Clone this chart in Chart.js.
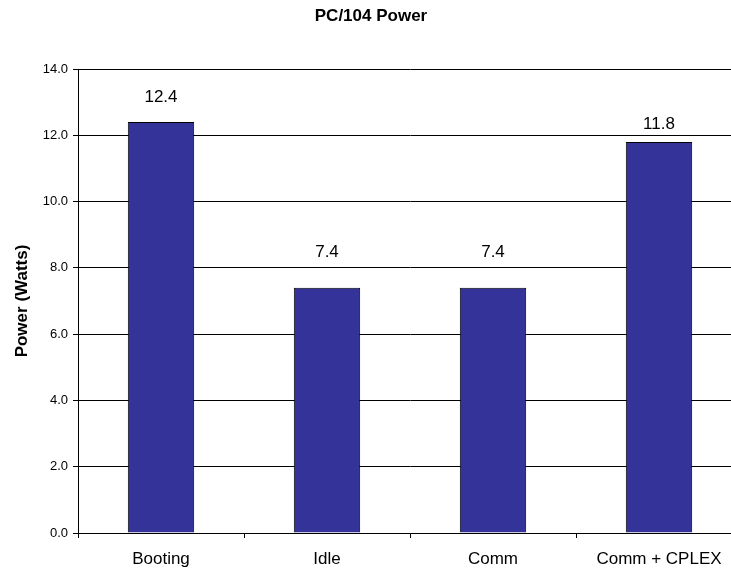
<!DOCTYPE html>
<html>
<head>
<meta charset="utf-8">
<script src="https://cdn.jsdelivr.net/npm/chart.js@4"></script>
<style>
html,body{margin:0;padding:0;background:#fff;overflow:hidden;}
#wrap{width:745px;height:575px;position:relative;}
</style>
</head>
<body>
<div id="wrap"><canvas id="c" width="745" height="575"></canvas></div>
<script>
const categories = ["Booting", "Idle", "Comm", "Comm + CPLEX"];
const powerWatts = [12.4, 7.4, 7.4, 11.8];
const yTickMin = 0, yTickMax = 14, yTickStep = 2;

const FONT = "'Liberation Sans', Arial, sans-serif";
// vertical gap (px) between each bar top and its value label, as placed in the original
const labelGap = [25, 35, 35, 18];

const valueLabels = {
  id: 'valueLabels',
  afterDatasetsDraw(chart) {
    const ctx = chart.ctx;
    const meta = chart.getDatasetMeta(0);
    ctx.save();
    ctx.font = "17px " + FONT;
    ctx.fillStyle = '#000';
    ctx.textAlign = 'center';
    ctx.textBaseline = 'middle';
    meta.data.forEach((bar, i) => {
      ctx.fillText(powerWatts[i].toFixed(1), bar.x, bar.y - labelGap[i]);
    });
    ctx.restore();
  }
};

new Chart(document.getElementById('c'), {
  type: 'bar',
  data: {
    labels: categories,
    datasets: [{
      data: powerWatts,
      backgroundColor: '#333399',
      borderColor: '#000',
      borderWidth: 1,
      barPercentage: 0.4,
      categoryPercentage: 1.0
    }]
  },
  options: {
    responsive: false,
    animation: false,
    layout: { padding: { left: 0, right: 3, top: 0, bottom: 0 } },
    plugins: {
      legend: { display: false },
      tooltip: { enabled: false },
      title: {
        display: true,
        text: 'PC/104 Power',
        color: '#000',
        font: { family: FONT, size: 17, weight: 'bold', lineHeight: 1.2 },
        padding: { top: 6, bottom: 42.6 }
      }
    },
    scales: {
      x: {
        grid: { offset: true, drawOnChartArea: false, color: '#000', tickLength: 5, tickColor: '#000' },
        border: { color: '#000', width: 1 },
        ticks: { color: '#000', font: { family: FONT, size: 17 }, padding: 11, maxRotation: 0 },
        afterFit(s) { s.height = 42; }
      },
      y: {
        min: yTickMin, max: yTickMax,
        grid: { color: '#000', lineWidth: 1, tickLength: 5, tickColor: '#000' },
        border: { color: '#000', width: 1 },
        ticks: { stepSize: yTickStep, color: '#000', font: { family: FONT, size: 13 }, padding: 5,
                 callback: v => Number(v).toFixed(1) },
        title: { display: true, text: 'Power (Watts)', color: '#000',
                 font: { family: FONT, size: 17, weight: 'bold' }, padding: { top: 12, bottom: 0 } },
        afterFit(s) { s.width = 78; }
      }
    }
  },
  plugins: [valueLabels]
});
</script>
</body>
</html>
